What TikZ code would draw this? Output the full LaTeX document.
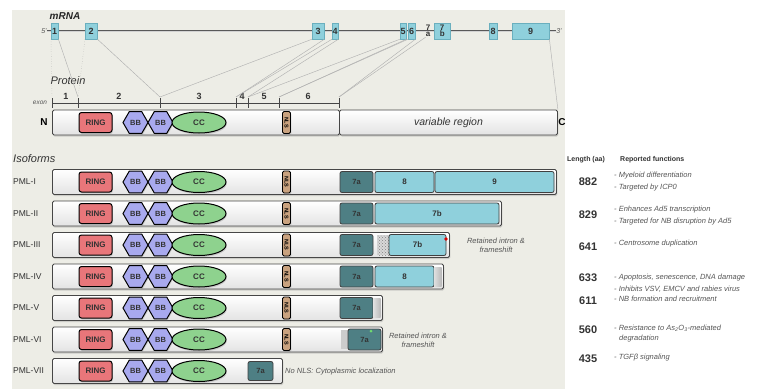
\documentclass[tikz,border=0pt]{standalone}
\usepackage{fontspec}
\setmainfont{Liberation Sans}
\usepackage{tikz}
\usetikzlibrary{positioning, shapes.geometric, shadows, patterns}

\definecolor{sfondo}{HTML}{EDEDE6}
\definecolor{esoneblu}{HTML}{8FD0DC}
\definecolor{esonebordo}{HTML}{6AAFBE}
\definecolor{ringrosso}{HTML}{E8767A}
\definecolor{bbviola}{HTML}{A8A9EE}
\definecolor{ccverde}{HTML}{8ED28E}
\definecolor{nlsmarrone}{HTML}{C9A27F}
\definecolor{tealscuro}{HTML}{4E7F84}
\definecolor{testoscuro}{HTML}{333333}
\definecolor{testogrigio}{HTML}{555555}

\begin{document}
\begin{tikzpicture}[x=1pt, y=-1pt,
    ombra/.style={drop shadow={opacity=0.3, shadow xshift=0.8pt, shadow yshift=-1.5pt}},
    esone/.style={draw=esonebordo, fill=esoneblu, inner sep=0pt, minimum height=16,
        font=\bfseries\fontsize{9}{9}\selectfont, text=testoscuro},
    collegamento/.style={gray!60, line width=0.45pt},
    barra/.style={draw=gray!55!black, line width=0.9pt, rounded corners=1.5pt,
        top color=white, bottom color=gray!22, minimum height=25, inner sep=0pt, ombra},
    dominioring/.style={draw=black, line width=1pt, fill=ringrosso, rounded corners=2.5pt,
        minimum width=33, minimum height=20, inner sep=0pt, ombra,
        font=\bfseries\fontsize{8}{8}\selectfont, text=testoscuro},
    dominiobb/.style={regular polygon, regular polygon sides=6, draw=black, line width=1pt,
        fill=bbviola, minimum size=25, inner sep=0pt, ombra,
        font=\bfseries\fontsize{7.5}{7.5}\selectfont, text=testoscuro},
    dominiocc/.style={ellipse, draw=black, line width=1pt, fill=ccverde,
        minimum width=54, minimum height=21, inner sep=0pt, ombra,
        font=\bfseries\fontsize{8}{8}\selectfont, text=testoscuro},
    dominionls/.style={draw=black, line width=0.8pt, fill=nlsmarrone, rounded corners=1.5pt,
        rotate=-90, minimum width=22, minimum height=8, inner sep=0pt, ombra,
        font=\bfseries\fontsize{5.5}{5.5}\selectfont},
    esone7a/.style={draw=black!75, line width=0.8pt, fill=tealscuro, rounded corners=2pt,
        minimum width=33, minimum height=21, inner sep=0pt,
        font=\bfseries\fontsize{7.5}{7.5}\selectfont, text=black!80},
    esonechiaro/.style={draw=black!75, line width=0.8pt, fill=esoneblu, rounded corners=2pt,
        minimum height=21, inner sep=0pt,
        font=\bfseries\fontsize{8}{8}\selectfont, text=testoscuro},
    etichetta/.style={font=\fontsize{8.5}{8.5}\selectfont, text=testoscuro, inner sep=0pt},
    titolo/.style={font=\itshape\fontsize{11}{11}\selectfont, text=testoscuro, inner sep=0pt},
    nota/.style={font=\itshape\fontsize{7.5}{9}\selectfont, text=testogrigio, inner sep=0pt},
    funzione/.style={font=\itshape\fontsize{7.5}{7.5}\selectfont, text=testogrigio,
        inner sep=0pt, anchor=west},
    lunghezza/.style={font=\bfseries\fontsize{11}{11}\selectfont, text=testoscuro, inner sep=0pt},
    intestazione/.style={font=\bfseries\fontsize{7}{7}\selectfont, text=testoscuro,
        inner sep=0pt, anchor=west}
]
    \useasboundingbox (0,0) rectangle (762,389);
    % Pannello di sfondo
    \fill[sfondo] (12,10) rectangle (565,389);

    % mRNA con gli esoni
    \node[titolo, font=\bfseries\itshape\fontsize{10}{10}\selectfont, text=gray!30!black]
        (titmrna) at (65,16) {mRNA};
    \node[nota, font=\itshape\fontsize{7}{7}\selectfont] (cinque) at (44,31) {5'};
    \node[nota, font=\itshape\fontsize{7}{7}\selectfont] (tre) at (559,31) {3'};
    \draw[gray!70!black, line width=2.4pt] (cinque.east) -- (tre.west);
    \draw[gray!35, line width=0.8pt] (cinque.east) -- (tre.west);
    \foreach \n/\xa/\xb/\testo in {1/51/58/1, 2/85/97/2, 3/312/324/3, 4/332/338/4,
        5/400/406/5, 6/408/415/6, 8/489/497/8, 9/512/549/9}
        \node[esone, minimum width={\xb-\xa}, anchor=west] (e\n) at (\xa,31) {\testo};
    \node[esone, minimum width=16, anchor=west, align=center,
        font=\bfseries\fontsize{8}{6.5}\selectfont] (e7b) at (434,31) {7\\b};
    \node[inner sep=0pt, align=center, text=testoscuro,
        font=\bfseries\fontsize{8}{6.5}\selectfont] (e7a) at (428,31) {7\\a};

    % Proteina e righello degli esoni
    \node[titolo] (titprot) at (68,81) {Protein};
    \node[nota, font=\itshape\fontsize{6.5}{6.5}\selectfont] (titesone) at (40,103) {exon};
    \draw[gray!55!black, line width=0.6pt] (52,103) -- (339,103);
    \foreach \n/\x in {0/52, 1/78, 2/160, 3/236, 4/248, 5/279, 6/339} {
        \draw[gray!55!black, line width=0.6pt] (\x,98) -- (\x,108);
        \coordinate (t\n) at (\x,97);
    }
    \foreach \n/\x in {1/66, 2/119, 3/199, 4/242, 5/264, 6/308}
        \node[font=\bfseries\fontsize{9}{9}\selectfont, text=testoscuro, inner sep=0pt]
            (ne\n) at (\x,96) {\n};

    \node[barra, minimum width=287, anchor=west] (protL) at (52,122.5) {};
    \node[barra, minimum width=218, anchor=west, font=\itshape\fontsize{10.5}{10.5}\selectfont,
        text=testoscuro] (protR) at (339,122.5) {variable region};
    \node[font=\bfseries\fontsize{10}{10}\selectfont, inner sep=0pt] (enne) at (44,122) {N};
    \node[font=\bfseries\fontsize{10}{10}\selectfont, inner sep=0pt] (ci) at (562,122) {C};
    \node[dominioring] (ring0) at (95.5,122.5) {RING};
    \node[dominiobb] (bba0) at (135.5,122.5) {BB};
    \node[dominiobb] (bbb0) at (160.5,122.5) {BB};
    \node[dominiocc] (cc0) at (199,122.5) {CC};
    \node[dominionls] (nls0) at (286.5,122.5) {NLS};

    % Collegamenti mRNA -> proteina
    \draw[collegamento, dotted] (e1.south west) -- (t0);
    \draw[collegamento] (e1.south east) -- (t1);
    \draw[collegamento, dotted] (e2.south west) -- (t1);
    \draw[collegamento] (e2.south east) -- (t2);
    \draw[collegamento] (e3.south west) -- (t2);
    \draw[collegamento] (e3.south east) -- (t3);
    \draw[collegamento] (e4.south west) -- (t3);
    \draw[collegamento] (e4.south east) -- (t4);
    \draw[collegamento] (e5.south west) -- (t4);
    \draw[collegamento] (e5.south east) -- (t5);
    \draw[collegamento] (e6.south west) -- (t5);
    \draw[collegamento] (e6.south east) -- (t6);
    \draw[collegamento] (e7a.south west) -- (t6);
    \draw[collegamento] (e9.south east) -- (protR.north east);

    % Isoforme
    \node[titolo, anchor=west] (titiso) at (13,159) {Isoforms};
    \foreach \i/\nome/\fine in {1/PML-I/556, 2/PML-II/501, 3/PML-III/449, 4/PML-IV/443,
        5/PML-V/382, 6/PML-VI/382, 7/PML-VII/282} {
        \pgfmathsetmacro{\yy}{182+31.5*(\i-1)}
        \node[etichetta, anchor=west] (nome\i) at (13,\yy) {\nome};
        \node[barra, minimum width={\fine-52}, anchor=west] (barra\i) at (52,\yy) {};
        \node[dominioring] (ring\i) at (95.5,\yy) {RING};
        \node[dominiobb] (bba\i) at (135.5,\yy) {BB};
        \node[dominiobb] (bbb\i) at (160.5,\yy) {BB};
        \node[dominiocc] (cc\i) at (199,\yy) {CC};
    }
    \foreach \i in {1,...,6} {
        \pgfmathsetmacro{\yy}{182+31.5*(\i-1)}
        \node[dominionls] (nls\i) at (286.5,\yy) {NLS};
    }
    \foreach \i in {1,...,5} {
        \pgfmathsetmacro{\yy}{182+31.5*(\i-1)}
        \node[esone7a] (a\i) at (356.5,\yy) {7a};
    }

    % Parte variabile di ogni isoforma
    \node[esonechiaro, minimum width=59] (otto1) at (404.5,182) {8};
    \node[esonechiaro, minimum width=119] (nove1) at (494.5,182) {9};
    \node[esonechiaro, minimum width=124] (setteb2) at (437,213.5) {7b};
    \fill[gray!30] (377,235) rectangle (389,255);
    \fill[pattern=crosshatch dots, pattern color=gray] (377,235) rectangle (389,255);
    \node[esonechiaro, minimum width=57] (setteb3) at (417.5,245) {7b};
    \fill[red!85!black] (446,239) circle (1.8);
    \node[esonechiaro, minimum width=59] (otto4) at (404.5,276.5) {8};
    \shade[left color=gray!25, right color=gray!55] (434,267) rectangle (441.5,286);
    \shade[left color=gray!25, right color=gray!55] (373.5,298.5) rectangle (380.5,317.5);
    \fill[gray!40] (341,330) rectangle (348,349);
    \node[esone7a] (a6) at (364.5,339.5) {7a};
    \fill[green!60!gray!70] (371,331) circle (1.5);
    \node[esone7a, minimum width=25, minimum height=19] (a7) at (260.5,371) {7a};

    \node[nota, align=center] (nota3) at (496,245.5) {Retained intron \&\\frameshift};
    \node[nota, align=center] (nota6) at (418,340.5) {Retained intron \&\\frameshift};
    \node[nota, anchor=west] (nota7) at (285,371.5) {No NLS: Cytoplasmic localization};

    % Lunghezze e funzioni
    \node[intestazione] (hlung) at (567,160) {Length (aa)};
    \node[intestazione] (hfunz) at (620,160) {Reported functions};
    \foreach \n/\y in {882/182, 829/215, 641/247, 633/278, 611/301, 560/330, 435/359}
        \node[lunghezza] (l\n) at (588,\y) {\n};
    \foreach \k/\x/\y/\testo in {1/614/176/{- Myeloid differentiation},
        2/614/188/{- Targeted by ICP0},
        3/614/210/{- Enhances Ad5 transcription},
        4/614/222/{- Targeted for NB disruption by Ad5},
        5/614/244/{- Centrosome duplication},
        6/614/278/{- Apoptosis, senescence, DNA damage},
        7/614/289/{- Inhibits VSV, EMCV and rabies virus},
        8/614/299/{- NB formation and recruitment},
        9/614/328/{- Resistance to As\textsubscript{2}O\textsubscript{3}-mediated},
        10/619/339/{degradation},
        11/614/358/{- TGFβ signaling}}
        \node[funzione] (f\k) at (\x,\y) {\testo};
\end{tikzpicture}
\end{document}
